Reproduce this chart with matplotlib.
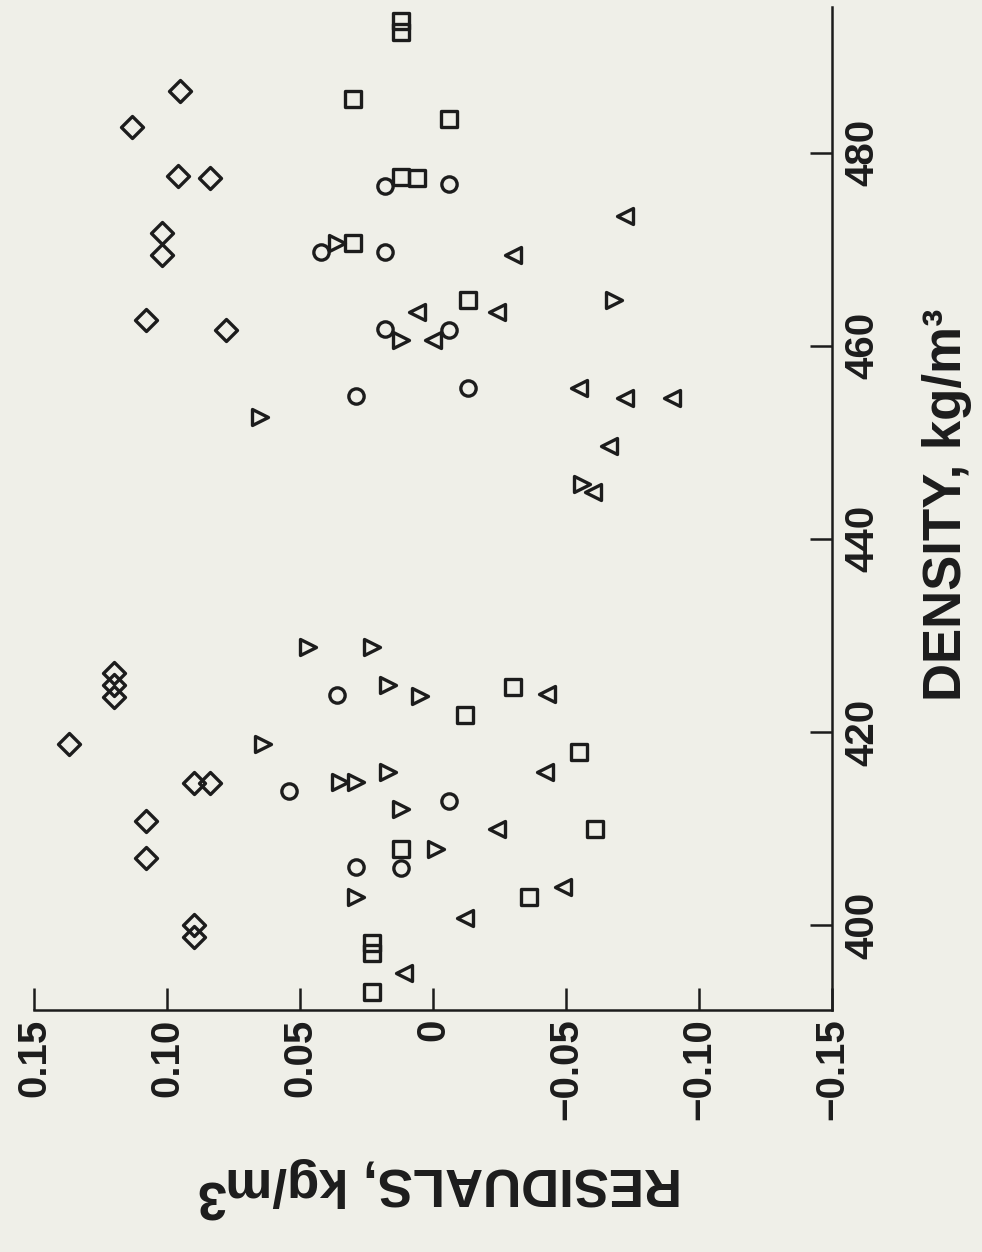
import matplotlib
matplotlib.use('Agg')
import matplotlib.pyplot as plt
from matplotlib.markers import MarkerStyle

# ---------------- data (density kg/m^3, residual kg/m^3) ----------------
dens_diamond = [418.8, 426.1, 424.9, 423.6, 414.7, 414.7, 410.8, 406.9, 400.0, 398.8,
                486.4, 482.7, 477.6, 477.4, 471.7, 469.4, 462.7, 461.6]
res_diamond = [0.137, 0.120, 0.120, 0.120, 0.090, 0.084, 0.108, 0.108, 0.090, 0.090,
               0.095, 0.113, 0.096, 0.084, 0.102, 0.102, 0.108, 0.078]

dens_circle = [423.8, 413.9, 412.9, 406.0, 405.9, 476.6, 476.8, 469.7, 469.7, 461.7,
               461.6, 454.8, 455.6]
res_circle = [0.036, 0.054, -0.006, 0.029, 0.012, 0.018, -0.006, 0.042, 0.018, 0.018,
              -0.006, 0.029, -0.013]

dens_square = [493.7, 492.5, 485.6, 483.5, 477.5, 477.4, 470.7, 464.7, 407.9, 398.1,
               397.1, 393.1, 424.7, 421.8, 417.9, 409.9, 402.9]
res_square = [0.012, 0.012, 0.030, -0.006, 0.012, 0.006, 0.030, -0.013, 0.012, 0.023,
              0.023, 0.023, -0.030, -0.012, -0.055, -0.061, -0.036]

dens_tri_r = [428.8, 428.8, 424.9, 423.7, 418.8, 414.8, 414.8, 415.9, 412.0, 407.9,
              402.9, 452.6, 460.6, 470.7, 464.7, 445.7]
res_tri_r = [0.047, 0.023, 0.017, 0.005, 0.064, 0.035, 0.029, 0.017, 0.012, -0.001,
             0.029, 0.065, 0.012, 0.036, -0.068, -0.056]

dens_tri_l = [463.5, 460.6, 473.5, 469.4, 463.5, 455.6, 454.6, 454.6, 449.6, 444.9,
              423.9, 415.9, 409.9, 403.9, 400.7, 395.0]
res_tri_l = [0.006, 0.000, -0.072, -0.030, -0.024, -0.055, -0.072, -0.090, -0.066, -0.060,
             -0.043, -0.042, -0.024, -0.049, -0.012, 0.011]

res_ticks = [0.15, 0.10, 0.05, 0.0, -0.05, -0.10, -0.15]
res_tick_labels = ['0.15', '0.10', '0.05', '0', '\u22120.05', '\u22120.10', '\u22120.15']
dens_ticks = [400, 420, 440, 460, 480]
dens_tick_labels = ['400', '420', '440', '460', '480']

# ---------------- style ----------------
BG = '#efefe8'
INK = '#1c1c1c'
plt.rcParams['font.family'] = ['Liberation Sans', 'DejaVu Sans']
plt.rcParams['font.weight'] = 'bold'

W, H = 982, 1252
fig = plt.figure(figsize=(W / 100, H / 100), dpi=100)
fig.patch.set_facecolor(BG)
ax = fig.add_axes([34 / W, 1 - 1010 / H, (832 - 34) / W, (1010 - 7) / H])
ax.set_facecolor(BG)

mk = dict(linestyle='none', mfc='none', mec=INK, mew=2.4, ms=11)
ax.plot(res_diamond, dens_diamond, marker=MarkerStyle('D', joinstyle='round'), **mk)
ax.plot(res_circle, dens_circle, marker='o', **mk)
ax.plot(res_square, dens_square, marker=MarkerStyle('s', joinstyle='round'), **mk)
ax.plot(res_tri_r, dens_tri_r, marker=MarkerStyle('>', joinstyle='round'), **mk)
ax.plot(res_tri_l, dens_tri_l, marker=MarkerStyle('<', joinstyle='round'), **mk)

ax.set_xlim(0.15, -0.15)
ax.set_ylim(391.2, 495.1)

for s in ('top', 'left'):
    ax.spines[s].set_visible(False)
for s in ('bottom', 'right'):
    ax.spines[s].set_linewidth(1.8)
    ax.spines[s].set_color(INK)

ax.xaxis.set_ticks_position('bottom')
ax.yaxis.set_ticks_position('right')
ax.set_xticks(res_ticks)
ax.set_xticklabels(res_tick_labels)
ax.set_yticks(dens_ticks)
ax.set_yticklabels(dens_tick_labels)
ax.tick_params(axis='x', direction='in', length=16, width=1.8, color=INK, pad=6,
               labelsize=29, labelrotation=90, labelcolor=INK)
ax.tick_params(axis='y', direction='in', length=16, width=1.8, color=INK, pad=8,
               labelsize=29, labelrotation=90, labelright=True, labelleft=False,
               labelcolor=INK)
for lab in ax.get_yticklabels():
    lab.set_va('center')
for lab in ax.get_xticklabels():
    lab.set_ha('center')
    lab.set_va('top')

fig.text(947 / W, 1 - 505 / H, 'DENSITY, kg/m\u00b3', rotation=90, ha='center',
         va='center', fontsize=38, fontweight='bold', color=INK)

# upside-down residual label
base_y = H - 1168
t = fig.text(682 / W, base_y / H, 'RESIDUALS, kg/m', rotation=180, rotation_mode='anchor',
             ha='left', va='baseline', fontsize=38, fontweight='bold', color=INK)
fig.canvas.draw()
bb = t.get_window_extent(fig.canvas.get_renderer())
fig.text((bb.x0 - 1) / W, (base_y - 12) / H, '3', rotation=180, rotation_mode='anchor',
         ha='left', va='baseline', fontsize=38, fontweight='bold', color=INK)

fig.savefig('out.png', dpi=100, facecolor=BG)
